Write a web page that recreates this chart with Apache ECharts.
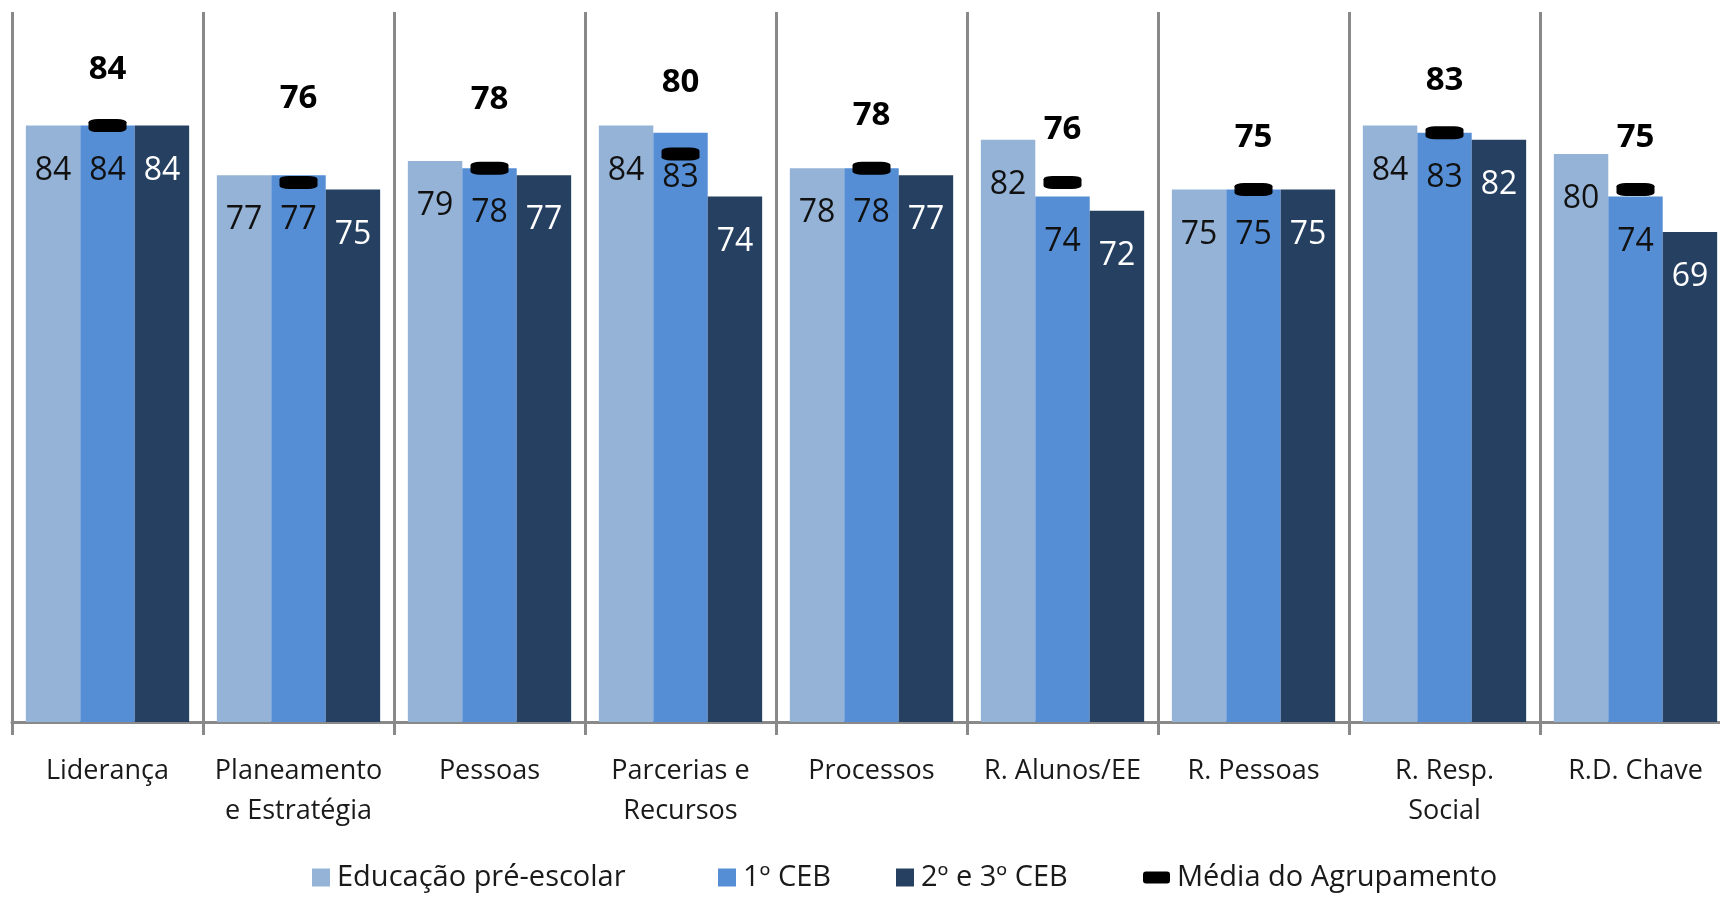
<!DOCTYPE html>
<html>
<head>
<meta charset="utf-8">
<script src="https://cdn.jsdelivr.net/npm/echarts@6/dist/echarts.min.js"></script>
<style>
  html, body { margin: 0; padding: 0; background: #fff; }
  #chart { width: 1720px; height: 897px; }
</style>
</head>
<body>
<div id="chart"></div>
<script>
// categorias (eixo x)
const categories = ['Liderança', 'Planeamento\ne Estratégia', 'Pessoas', 'Parcerias e\nRecursos', 'Processos', 'R. Alunos/EE', 'R. Pessoas', 'R. Resp.\nSocial', 'R.D. Chave']

// valores por nível de ensino
const preEscolar = [84, 77, 79, 84, 78, 82, 75, 84, 80]
const ceb1 = [84, 77, 78, 83, 78, 74, 75, 83, 74]
const ceb23 = [84, 75, 77, 74, 77, 72, 75, 82, 69]
const mediaAgrupamento = [84, 76, 78, 80, 78, 76, 75, 83, 75]

const seriesNames = ['Educação pré-escolar', '1º CEB', '2º e 3º CEB', 'Média do Agrupamento']

// distância da etiqueta da média acima do marcador (algumas foram movidas à mão no original)
const avgLabelDist = [33, 61, 46, 48, 30, 30, 29, 29, 29]
// posição x de cada entrada da legenda
const legendLeft = [307, 713, 891, 1138]

const font = 'Open Sans'
const chart = echarts.init(document.getElementById('chart'))

const barLabel = color => ({
  show: true,
  position: 'insideTop',
  distance: 29,
  fontFamily: font,
  fontSize: 32,
  color: color
})

const legends = seriesNames.map((name, i) => {
  const isAvg = i === 3
  return {
    left: legendLeft[i],
    top: 858,
    itemWidth: isAvg ? 27 : 18,
    itemHeight: isAvg ? 12 : 18,
    itemGap: 6,
    icon: isAvg ? 'roundRect' : 'rect',
    textStyle: { fontFamily: font, fontSize: 29, color: '#1a1a1a', padding: [0, 0, 0, 2] },
    data: [name]
  }
})

chart.setOption({
  backgroundColor: '#fff',
  animation: false,
  textStyle: { fontFamily: font },
  grid: {
    left: 12,
    top: 12,
    width: 1719,
    height: 710,
    outerBoundsMode: 'none'
  },
  legend: legends,
  xAxis: {
    type: 'category',
    data: categories,
    axisLine: { lineStyle: { color: '#898989', width: 3 } },
    axisTick: { show: true, length: 13, interval: 0, lineStyle: { color: '#898989', width: 3 } },
    splitLine: { show: true, interval: 0, lineStyle: { color: '#898989', width: 3 } },
    axisLabel: {
      interval: 0,
      margin: 29,
      fontFamily: font,
      fontSize: 27,
      lineHeight: 40,
      color: '#1a1a1a'
    }
  },
  yAxis: {
    type: 'value',
    min: 0,
    max: 100,
    show: false,
    splitLine: { show: false }
  },
  series: [
    {
      name: seriesNames[0],
      type: 'bar',
      data: preEscolar,
      barGap: '0%',
      barCategoryGap: '14.5%',
      itemStyle: { color: '#95B3D7' },
      label: barLabel('#111')
    },
    {
      name: seriesNames[1],
      type: 'bar',
      data: ceb1,
      itemStyle: { color: '#558ED5' },
      label: barLabel('#111')
    },
    {
      name: seriesNames[2],
      type: 'bar',
      data: ceb23,
      itemStyle: { color: '#254061' },
      label: barLabel('#fff')
    },
    {
      name: seriesNames[3],
      type: 'scatter',
      z: 5,
      symbol: 'roundRect',
      symbolSize: [38, 13],
      itemStyle: { color: '#000', opacity: 1 },
      data: mediaAgrupamento.map((v, i) => ({
        value: v,
        label: { distance: avgLabelDist[i] }
      })),
      label: {
        show: true,
        position: 'top',
        fontFamily: font,
        fontWeight: 'bold',
        fontSize: 33,
        color: '#000'
      }
    }
  ]
})
</script>
</body>
</html>
